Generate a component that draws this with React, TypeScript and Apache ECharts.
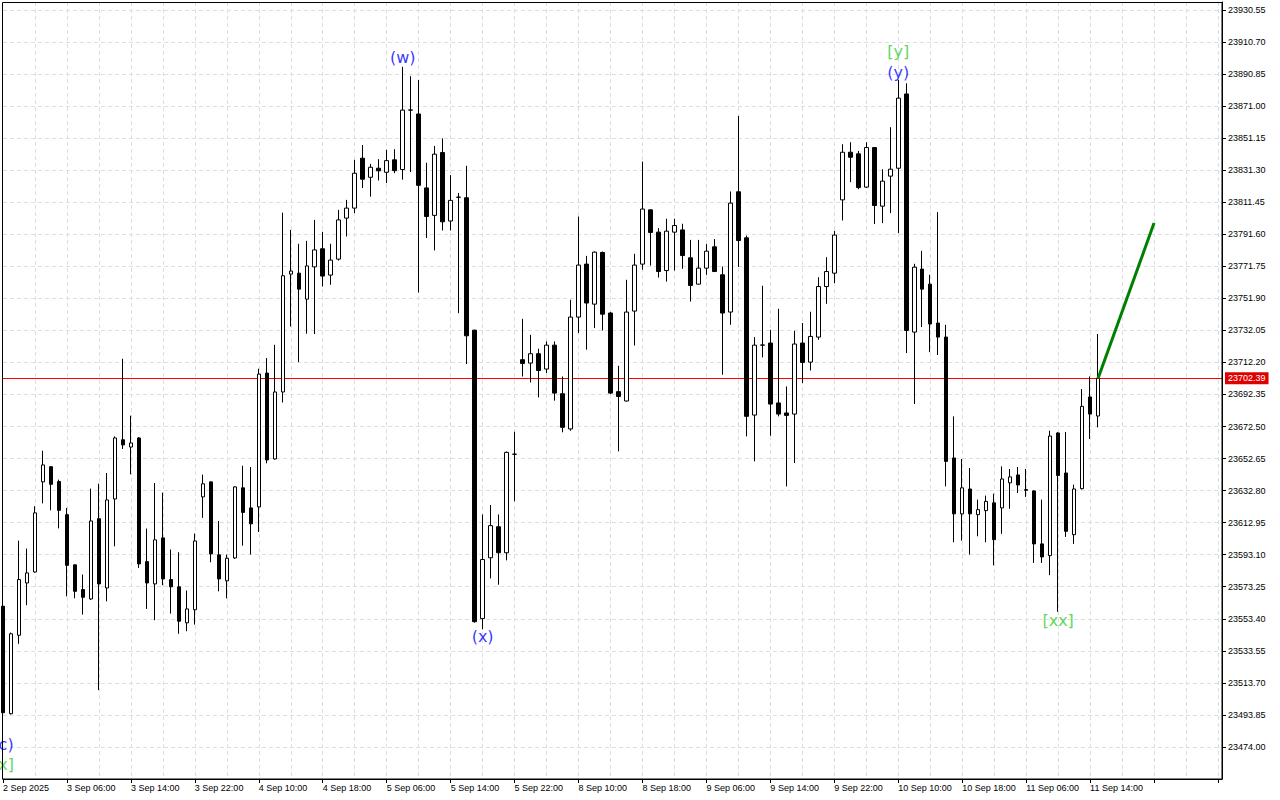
import React, { useEffect, useRef } from "react";
import * as echarts from "echarts";

// ---- data (hourly candles, index 0 = first visible bar) ----
const OPEN = [
  23561.2, 23494.6, 23543.2, 23575.6, 23582.4, 23638.2, 23647.6, 23638.4, 23617.9, 23586.8,
  23571.5, 23565.7, 23615.4, 23572.5, 23627.6, 23664.3, 23659.8, 23665.4, 23588.8, 23575.0,
  23603.5, 23577.7, 23573.2, 23550.9, 23559.0, 23628.9, 23638.2, 23593.0, 23576.9, 23591.1,
  23634.5, 23622.1, 23622.7, 23705.6, 23652.4, 23693.9, 23766.9, 23767.5, 23751.4, 23771.4,
  23782.6, 23766.3, 23776.2, 23801.6, 23807.8, 23838.7, 23826.9, 23832.5, 23830.0, 23837.7,
  23831.7, 23868.5, 23866.1, 23820.3, 23803.3, 23842.2, 23799.8, 23814.5, 23814.2, 23732.2,
  23553.5, 23591.2, 23610.4, 23594.3, 23655.3, 23713.9, 23711.8, 23717.6, 23708.1, 23722.9,
  23692.8, 23671.0, 23740.3, 23773.1, 23748.3, 23780.3, 23742.8, 23694.1, 23688.3, 23744.0,
  23773.1, 23806.7, 23792.9, 23769.1, 23792.9, 23794.3, 23777.0, 23760.7, 23770.6, 23783.8,
  23766.5, 23743.4, 23817.9, 23789.4, 23679.6, 23722.9, 23724.2, 23687.1, 23680.9, 23680.2,
  23724.2, 23712.4, 23727.9, 23759.2, 23767.5, 23812.9, 23842.4, 23841.4, 23820.8, 23845.3,
  23809.0, 23827.6, 23832.5, 23878.5, 23731.0, 23770.0, 23760.7, 23736.6, 23727.9, 23653.0,
  23618.4, 23633.8, 23617.9, 23620.4, 23625.2, 23622.1, 23637.6, 23642.5, 23633.4, 23632.6,
  23599.8, 23592.5, 23668.5, 23643.7, 23605.5, 23634.0, 23690.8, 23679.0,
];
const CLOSE = [
  23495.2, 23544.1, 23577.7, 23581.8, 23619.0, 23648.7, 23636.7, 23620.6, 23586.5, 23570.4,
  23566.7, 23614.0, 23575.0, 23627.0, 23665.4, 23661.1, 23662.3, 23587.4, 23575.6, 23602.3,
  23578.1, 23573.2, 23551.9, 23559.5, 23601.6, 23637.0, 23593.6, 23578.1, 23590.9, 23635.1,
  23619.3, 23612.2, 23705.0, 23651.8, 23693.9, 23765.9, 23768.8, 23757.6, 23772.0, 23781.9,
  23765.7, 23775.6, 23800.5, 23807.8, 23829.4, 23825.7, 23833.1, 23830.9, 23837.2, 23831.0,
  23868.5, 23868.6, 23821.9, 23802.6, 23841.2, 23799.3, 23812.6, 23814.6, 23728.7, 23551.6,
  23590.1, 23611.1, 23594.3, 23656.5, 23655.4, 23711.6, 23717.6, 23707.2, 23722.9, 23693.2,
  23672.0, 23740.3, 23772.5, 23749.0, 23780.5, 23742.1, 23693.2, 23691.1, 23743.4, 23772.5,
  23807.2, 23792.7, 23768.5, 23793.5, 23797.0, 23778.4, 23759.9, 23770.6, 23781.1, 23768.5,
  23742.8, 23810.9, 23787.7, 23678.8, 23722.9, 23723.0, 23686.4, 23680.2, 23679.4, 23723.6,
  23712.2, 23728.3, 23759.2, 23768.5, 23791.1, 23842.4, 23839.3, 23820.5, 23845.3, 23809.4,
  23824.5, 23831.9, 23875.9, 23732.0, 23771.2, 23757.6, 23736.0, 23727.9, 23650.9, 23618.4,
  23634.5, 23618.4, 23621.0, 23626.1, 23602.4, 23640.0, 23641.3, 23636.3, 23633.0, 23599.8,
  23591.7, 23666.6, 23642.2, 23607.6, 23633.8, 23685.0, 23680.2, 23702.39,
];
const LOW = [
  23494.0, 23494.1, 23537.9, 23561.8, 23582.0, 23624.9, 23620.6, 23609.4, 23567.3, 23566.1,
  23556.0, 23565.0, 23509.2, 23564.2, 23598.3, 23658.6, 23642.9, 23584.9, 23559.5, 23552.5,
  23574.2, 23556.6, 23544.1, 23545.7, 23549.8, 23615.9, 23588.4, 23570.4, 23566.1, 23590.5,
  23598.7, 23593.2, 23607.2, 23649.7, 23652.0, 23687.4, 23734.5, 23712.4, 23730.0, 23729.8,
  23759.2, 23760.3, 23775.3, 23790.2, 23804.7, 23820.2, 23814.9, 23824.9, 23823.3, 23829.4,
  23825.4, 23830.1, 23755.5, 23789.3, 23781.6, 23793.9, 23793.9, 23742.7, 23711.2, 23551.0,
  23546.9, 23578.4, 23574.5, 23589.6, 23626.2, 23703.5, 23699.8, 23690.5, 23705.6, 23688.5,
  23668.9, 23669.9, 23730.4, 23720.1, 23733.5, 23732.0, 23692.6, 23657.1, 23688.0, 23722.7,
  23769.6, 23772.2, 23764.8, 23762.3, 23769.1, 23770.2, 23749.9, 23760.5, 23766.5, 23768.3,
  23704.6, 23735.5, 23771.3, 23666.4, 23650.9, 23715.3, 23666.8, 23678.8, 23635.4, 23649.9,
  23699.4, 23707.2, 23726.2, 23748.5, 23761.3, 23800.1, 23823.9, 23819.5, 23820.2, 23797.9,
  23798.5, 23804.7, 23792.3, 23718.0, 23686.4, 23734.1, 23718.6, 23716.8, 23635.4, 23600.8,
  23601.8, 23593.2, 23604.5, 23600.8, 23586.5, 23606.0, 23621.5, 23631.3, 23628.9, 23588.0,
  23588.0, 23580.4, 23557.7, 23604.1, 23599.8, 23633.5, 23664.8, 23672.0,
];
const HIGH = [
  23562.0, 23544.9, 23601.8, 23596.9, 23623.1, 23657.5, 23648.0, 23639.6, 23622.1, 23587.0,
  23580.8, 23634.0, 23637.1, 23643.7, 23666.4, 23714.5, 23679.2, 23666.0, 23609.3, 23637.5,
  23631.5, 23596.3, 23594.6, 23570.9, 23606.2, 23642.7, 23638.5, 23614.0, 23593.2, 23635.5,
  23648.2, 23647.4, 23708.3, 23714.9, 23723.1, 23805.0, 23794.3, 23785.7, 23787.5, 23800.5,
  23793.1, 23785.7, 23806.7, 23812.9, 23837.7, 23846.9, 23835.2, 23838.1, 23843.9, 23844.3,
  23895.3, 23889.5, 23887.1, 23835.9, 23846.3, 23851.0, 23828.2, 23817.2, 23834.0, 23732.5,
  23618.0, 23623.9, 23618.0, 23657.0, 23669.3, 23739.2, 23729.3, 23720.7, 23725.2, 23725.2,
  23703.5, 23751.0, 23802.6, 23778.2, 23781.0, 23780.9, 23743.5, 23710.1, 23763.4, 23779.5,
  23836.6, 23807.0, 23795.4, 23801.2, 23801.2, 23798.1, 23788.1, 23788.1, 23785.5, 23788.6,
  23771.6, 23818.1, 23864.9, 23790.8, 23727.9, 23759.7, 23732.4, 23745.4, 23697.3, 23731.8,
  23736.6, 23743.6, 23765.0, 23777.4, 23793.7, 23847.4, 23848.6, 23843.2, 23848.6, 23845.5,
  23831.9, 23857.9, 23887.2, 23885.1, 23773.3, 23781.3, 23766.5, 23805.3, 23735.5, 23678.8,
  23652.4, 23646.8, 23627.2, 23629.7, 23630.9, 23647.8, 23646.2, 23647.4, 23646.2, 23633.0,
  23627.2, 23669.9, 23669.0, 23669.1, 23636.5, 23695.7, 23703.5, 23729.8,
];

const X_LABELS = [
  "2 Sep 2025", "3 Sep 06:00", "3 Sep 14:00", "3 Sep 22:00", "4 Sep 10:00", "4 Sep 18:00",
  "5 Sep 06:00", "5 Sep 14:00", "5 Sep 22:00", "8 Sep 10:00", "8 Sep 18:00", "9 Sep 06:00",
  "9 Sep 14:00", "9 Sep 22:00", "10 Sep 10:00", "10 Sep 18:00", "11 Sep 06:00", "11 Sep 14:00",
];
const X_LABEL_STEP = 8;
const X_GRID_STEP = 4;

const CURRENT_PRICE = 23702.39;

// projection line (bar index, price)
const PROJ_X = [137, 144];
const PROJ_Y = [23702.39, 23798.5];

// wave labels
const WAVE_TEXT = ["(w)", "(x)", "[y]", "(y)", "[xx]", "(c)", "[x]"];
const WAVE_X = [50, 60, 112, 112, 132, 0, 0];
const WAVE_Y = [23900.8, 23542.4, 23904.5, 23892.1, 23552.3, 23475.6, 23463.2];
const WAVE_COLOR = ["#0000ff", "#0000ff", "#32cd32", "#0000ff", "#32cd32", "#0000ff", "#32cd32"];

// y axis: tick labels start at 23474.00 and step 19.85
const Y_BASE = 23474.0;
const Y_STEP = 19.85;
const Y_MAX = 23935.47;

const X_MIN = 0;
const X_MAX = 152.5;

export default function App() {
  const ref = useRef<HTMLDivElement>(null);

  useEffect(() => {
    if (!ref.current) return;
    const chart = echarts.init(ref.current, undefined, { renderer: "svg" });
    const rel = (v: number) => +(v - Y_BASE).toFixed(4);

    const candles = OPEN.map((o, i) => [i, rel(o), rel(CLOSE[i]), rel(LOW[i]), rel(HIGH[i])]);
    const proj = PROJ_X.map((x, i) => [x, rel(PROJ_Y[i])]);
    const waves = WAVE_TEXT.map((t, i) => ({
      value: [WAVE_X[i], rel(WAVE_Y[i])],
      label: { formatter: t, color: WAVE_COLOR[i] },
    }));

    const gridLine = {
      show: true, showMinLine: false, showMaxLine: false,
      lineStyle: { color: "#dedede", type: [4, 3] as any, width: 1 },
    };

    chart.setOption({
      animation: false,
      backgroundColor: "#ffffff",
      grid: {
        left: 2, right: 58, top: 2, bottom: 21,
        show: false, containLabel: false,
      },
      graphic: [
        {
          type: "rect", silent: true, z: 100,
          shape: { x: 2.5, y: 2.5, width: 1219.5, height: 776.5 },
          style: { fill: "none", stroke: "#000000", lineWidth: 1 },
        },
      ],
      xAxis: [
        {
          type: "value", min: X_MIN, max: X_MAX, interval: X_GRID_STEP,
          axisLine: { show: true, onZero: false, lineStyle: { color: "#000", width: 1 } },
          axisTick: { show: false }, axisLabel: { show: false },
          splitLine: gridLine,
        },
        {
          type: "value", min: X_MIN, max: X_MAX, interval: X_LABEL_STEP, position: "bottom",
          axisLine: { show: false, onZero: false },
          axisTick: { show: true, length: 4, lineStyle: { color: "#000", width: 1 } },
          splitLine: { show: false },
          axisLabel: {
            show: true, showMaxLabel: false,
            align: "left", margin: 4, color: "#000", fontSize: 9, fontFamily: "Liberation Sans",
            formatter: (v: number) => {
              const k = Math.round(v / X_LABEL_STEP);
              if (Math.abs(v - k * X_LABEL_STEP) > 0.01) return "";
              return X_LABELS[k] ?? "";
            },
          },
        },
      ],
      yAxis: {
        type: "value", position: "right",
        min: -Y_STEP, max: rel(Y_MAX), interval: Y_STEP,
        axisLine: { show: true, onZero: false, lineStyle: { color: "#000", width: 1 } },
        axisTick: { show: true, length: 4, lineStyle: { color: "#000" } },
        splitLine: gridLine,
        axisLabel: {
          show: true, showMinLabel: false, showMaxLabel: false,
          margin: 6, color: "#000", fontSize: 9, fontFamily: "Liberation Sans",
          formatter: (v: number) => (v + Y_BASE).toFixed(2),
        },
      },
      series: [
        {
          type: "candlestick",
          xAxisIndex: 0, yAxisIndex: 0,
          barWidth: 4,
          z: 2,
          data: candles,
          itemStyle: {
            color: "#ffffff", color0: "#000000",
            borderColor: "#000000", borderColor0: "#000000", borderColorDoji: "#000000",
            borderWidth: 1,
          },
          markLine: {
            silent: true, z: 1, symbol: ["none", "none"],
            lineStyle: { color: "#ff0000", width: 1, type: "solid" },
            label: {
              show: true, position: "end", distance: 3,
              formatter: CURRENT_PRICE.toFixed(2),
              backgroundColor: "#e00000", color: "#ffffff",
              fontSize: 9, fontFamily: "Liberation Sans", padding: [2, 3, 1, 3],
            },
            data: [{ yAxis: rel(CURRENT_PRICE) }],
          },
        },
        {
          type: "line",
          xAxisIndex: 0, yAxisIndex: 0, z: 3,
          data: proj, symbol: "none",
          lineStyle: { color: "#008000", width: 3 },
        },
        {
          type: "scatter",
          xAxisIndex: 0, yAxisIndex: 0, z: 4,
          symbol: "circle", symbolSize: 1,
          itemStyle: { color: "rgba(0,0,0,0)" },
          label: { show: true, position: "inside", fontSize: 16, fontFamily: "DejaVu Sans" },
          data: waves,
        },
      ],
    });
    return () => chart.dispose();
  }, []);

  return (
    <div
      ref={ref}
      style={{ position: "fixed", left: 0, top: 0, width: 1280, height: 800, background: "#fff" }}
    />
  );
}
